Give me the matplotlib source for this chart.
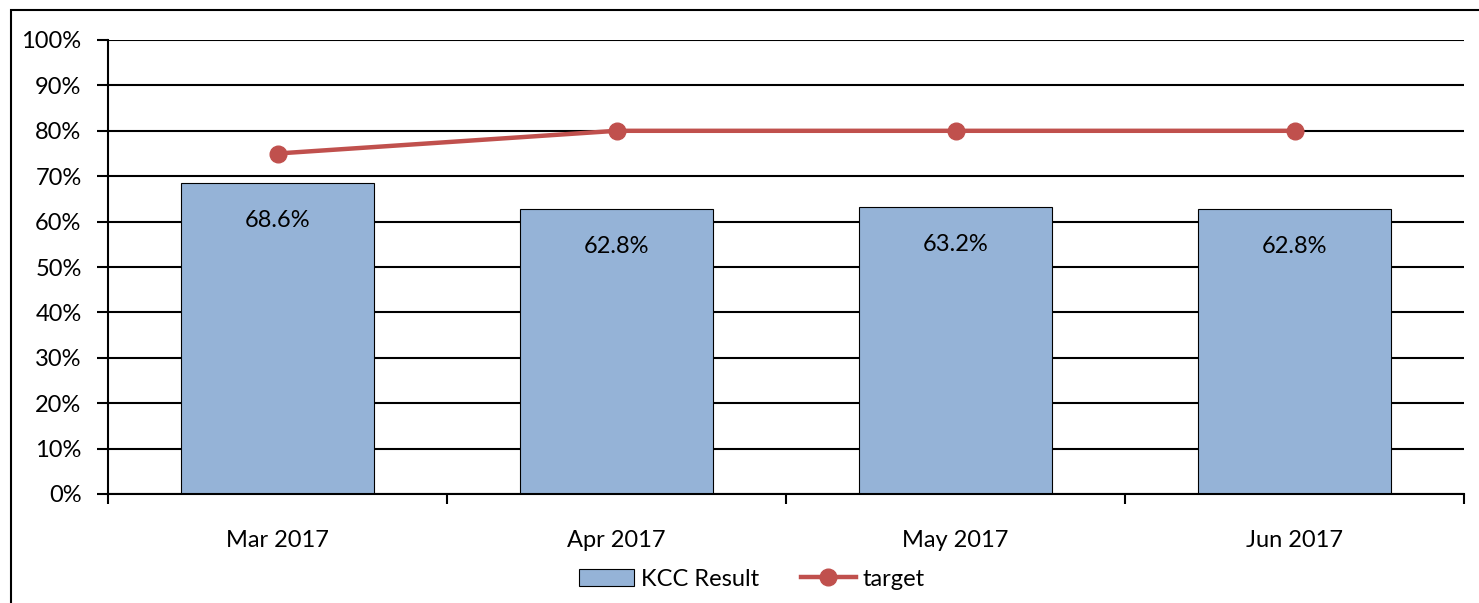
import numpy as np
import matplotlib
matplotlib.use("Agg")
import matplotlib.pyplot as plt
from matplotlib.patches import Rectangle
from matplotlib.ticker import FixedLocator, FuncFormatter

months = ["Mar 2017", "Apr 2017", "May 2017", "Jun 2017"]
kcc_result = [68.6, 62.8, 63.2, 62.8]
target = [75, 80, 80, 80]

plt.rcParams['font.family'] = ['Lato', 'DejaVu Sans']
plt.rcParams['font.size'] = 17

W, H = 1479, 603
fig = plt.figure(figsize=(W / 100, H / 100), dpi=100)
ax = fig.add_axes([108 / W, 1 - 494 / H, (1464 - 108) / W, (494 - 40) / H])

x = np.arange(len(months))
bars = ax.bar(x, kcc_result, width=0.57, color="#95B3D7", edgecolor="black",
              linewidth=0.8, label="KCC Result", zorder=3)
line, = ax.plot(x, target, color="#C0504D", linewidth=3.2, marker="o", markersize=12,
                label="target", zorder=4)

for xi, v in zip(x, kcc_result):
    ax.annotate(f"{v:.1f}%", (xi, v), xytext=(0, -27), textcoords="offset points",
                ha="center", va="center", fontsize=17, zorder=5)

ax.set_ylim(0, 100)
ax.set_xlim(-0.5, len(months) - 0.5)
ax.set_yticks(np.arange(0, 101, 10))
ax.yaxis.set_major_formatter(FuncFormatter(lambda v, p: f"{int(v)}%"))
ax.grid(axis="y", color="black", linewidth=1.5, zorder=0)
ax.set_xticks(x)
ax.set_xticklabels(months)
ax.xaxis.set_minor_locator(FixedLocator(np.arange(-0.5, len(months), 1.0)))
ax.tick_params(axis="x", which="major", length=0, pad=26)
ax.tick_params(axis="x", which="minor", length=7, width=1.5, direction="out")
ax.tick_params(axis="y", length=8, width=1.5, direction="out", pad=11)
for s in ["top", "right"]:
    ax.spines[s].set_visible(False)
for s in ["left", "bottom"]:
    ax.spines[s].set_linewidth(1.5)
    ax.spines[s].set_zorder(6)

fig.legend([bars, line], ["KCC Result", "target"], loc="center",
           bbox_to_anchor=(752 / W, 1 - 579 / H), ncol=2, frameon=False,
           fontsize=17, handlelength=2.3, columnspacing=1.8, handletextpad=0.3)

fig.patches.append(Rectangle((11 / W, -0.1), 1.2, 1 - 10 / H + 0.1, transform=fig.transFigure,
                             fill=False, edgecolor="black", linewidth=1.5))

fig.savefig("out.png", dpi=100)
